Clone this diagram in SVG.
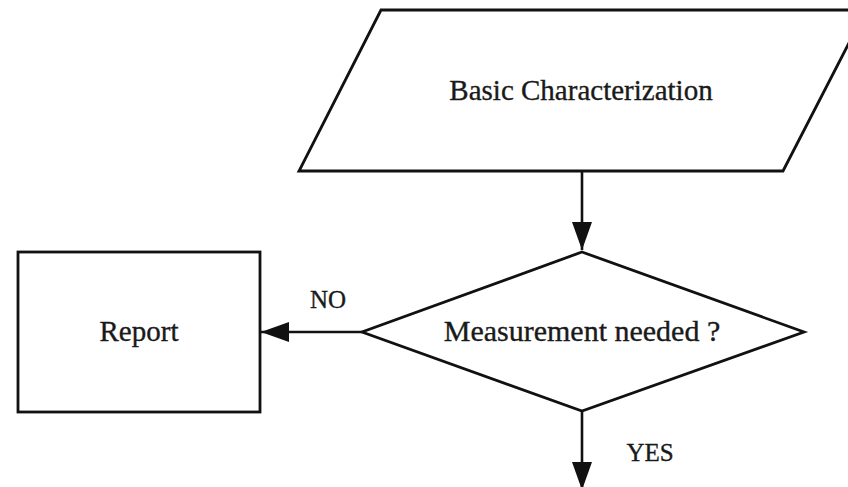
<svg xmlns="http://www.w3.org/2000/svg" width="848" height="487" viewBox="0 0 848 487">
<defs>
<style>
.shape{fill:#fff;stroke:#111;stroke-width:2.8;stroke-linejoin:miter}
.conn{stroke:#111;stroke-width:2.6;fill:none}
.lbl{font-family:"Liberation Serif","Times New Roman",serif;font-size:29px;fill:#1a1a1a;stroke:#1a1a1a;stroke-width:0.35;text-anchor:middle}
.sm{font-size:25px}
</style>
<marker id="arr" viewBox="0 0 28 20" refX="28" refY="10" markerWidth="28" markerHeight="20" markerUnits="userSpaceOnUse" orient="auto">
<path d="M0,0 L28,10 L0,20 Z" fill="#111"/>
</marker>
</defs>
<rect width="848" height="487" fill="#fff"/>
<g id="basic-characterization">
<polygon class="shape" points="381,10 866,10 783,171 299,171"/>
<text class="lbl" x="581" y="100">Basic Characterization</text>
</g>
<g id="measurement-needed">
<polygon class="shape" points="582,252 804,332 582,411 362,332"/>
<text class="lbl" x="582" y="341" style="font-size:30px">Measurement needed ?</text>
</g>
<g id="report">
<rect class="shape" x="18" y="252" width="242" height="160"/>
<text class="lbl" x="139" y="341">Report</text>
</g>
<g id="connectors">
<line class="conn" x1="582" y1="171" x2="582" y2="250" marker-end="url(#arr)"/>
<line class="conn" x1="362" y1="332" x2="261" y2="332" marker-end="url(#arr)"/>
<line class="conn" x1="582" y1="411" x2="582" y2="490" marker-end="url(#arr)"/>
<text class="lbl sm" x="328" y="308">NO</text>
<text class="lbl sm" x="650" y="461">YES</text>
</g>
</svg>
